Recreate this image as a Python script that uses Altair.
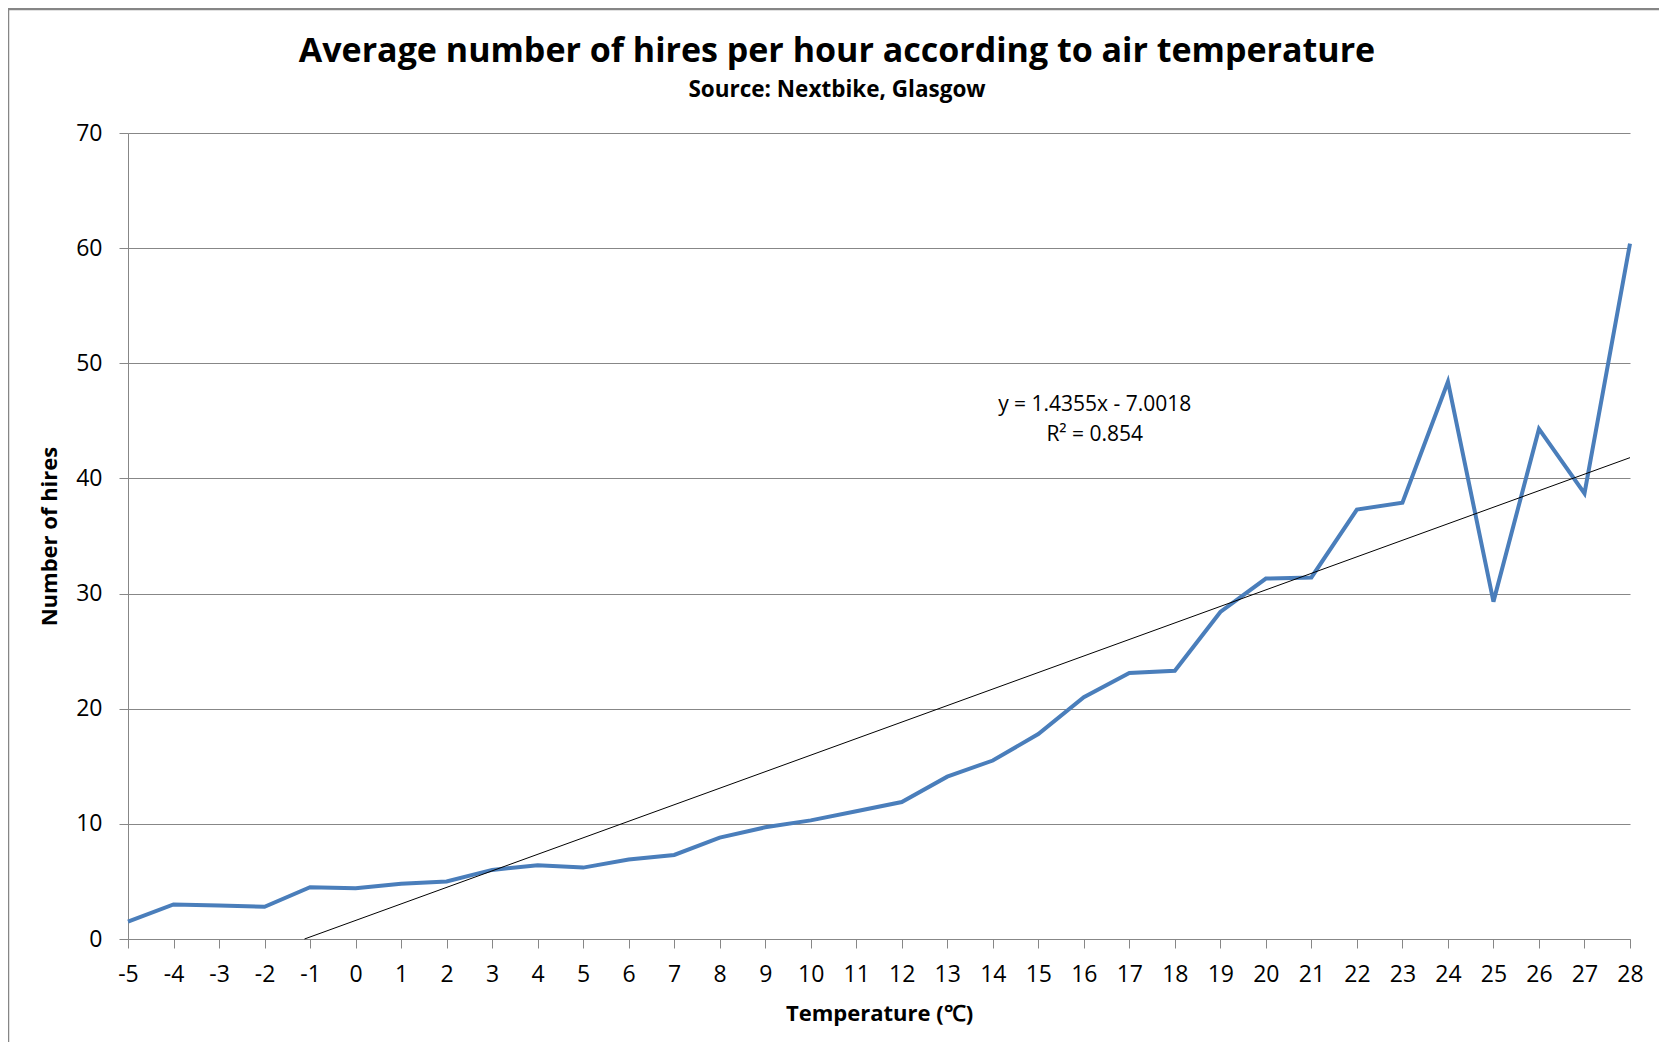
import altair as alt
import pandas as pd

temps = list(range(-5, 29))
hires = [1.5, 3.0, 2.9, 2.8, 4.5, 4.4, 4.8, 5.0, 6.0, 6.4, 6.2, 6.9, 7.3, 8.8, 9.7,
         10.3, 11.1, 11.9, 14.1, 15.5, 17.8, 21.0, 23.1, 23.3, 28.4, 31.3, 31.4,
         37.3, 37.9, 48.4, 29.3, 44.3, 38.7, 60.4]

slope = 1.4355
intercept = -7.0018
r2 = 0.854
x_ticks = list(range(-5, 29))
y_ticks = list(range(0, 71, 10))

title_text = "Average number of hires per hour according to air temperature"
subtitle_text = "Source: Nextbike, Glasgow"

eq_lines = ["y = 1.4355x - 7.0018", "R² = 0.854"]
eq_x = [16.24, 16.24]
eq_y = [46.4, 43.8]

df = pd.DataFrame({"temp": temps, "hires": hires})

# trend line from the stated equation (x = category index 1..34), clipped at y = 0
t_start = -intercept / slope - 6
t_end = temps[-1]
trend = pd.DataFrame({
    "temp": [t_start, t_end],
    "hires": [slope * (t_start + 6) + intercept, slope * (t_end + 6) + intercept],
})
ann = pd.DataFrame({"label": eq_lines, "temp": eq_x, "hires": eq_y})

FONT = "Open Sans"
GRID = "#878787"

xscale = alt.Scale(domain=[-5, 28], nice=False, zero=False)
yscale = alt.Scale(domain=[0, 70], nice=False)

xaxis = alt.Axis(values=x_ticks, title="Temperature (℃)", grid=False, tickSize=9,
                 labelPadding=15, titlePadding=17, labelExpr="'' + datum.value",
                 labelFlush=False, labelOverlap=False)
yaxis = alt.Axis(values=y_ticks, title="Number of hires", grid=True, tickSize=9,
                 labelPadding=17, titlePadding=14, labelFlush=False)

line = alt.Chart(df).mark_line(color="#4A7EBB", strokeWidth=4).encode(
    x=alt.X("temp:Q", scale=xscale, axis=xaxis),
    y=alt.Y("hires:Q", scale=yscale, axis=yaxis),
)

trend_line = alt.Chart(trend).mark_line(color="black", strokeWidth=1).encode(
    x=alt.X("temp:Q", scale=xscale),
    y=alt.Y("hires:Q", scale=yscale),
)

text = alt.Chart(ann).mark_text(font=FONT, fontSize=21, color="black",
                                align="center", baseline="middle").encode(
    x=alt.X("temp:Q", scale=xscale),
    y=alt.Y("hires:Q", scale=yscale),
    text="label:N",
)

one = pd.DataFrame({"k": [0]})
title_mark = alt.Chart(one).mark_text(
    text=title_text, font=FONT, fontSize=34, fontWeight="bold", color="black",
    align="center", baseline="alphabetic",
).encode(x=alt.value(709), y=alt.value(-71))
subtitle_mark = alt.Chart(one).mark_text(
    text=subtitle_text, font=FONT, fontSize=22.5, fontWeight="bold", color="black",
    align="center", baseline="alphabetic",
).encode(x=alt.value(709), y=alt.value(-36))

frame_left = alt.Chart(one).mark_rule(color="#868686", strokeWidth=2.5).encode(
    x=alt.value(-120), y=alt.value(-124), y2=alt.value(1000))
frame_top = alt.Chart(one).mark_rule(color="#868686", strokeWidth=2.5).encode(
    x=alt.value(-120), x2=alt.value(1560), y=alt.value(-124))

chart = alt.layer(line, trend_line, text, title_mark, subtitle_mark,
                  frame_left, frame_top).properties(
    width=1502,
    height=806,
    autosize=alt.AutoSizeParams(type="none"),
    padding={"left": 120, "top": 125, "right": 29, "bottom": 103},
).configure_view(stroke=None).configure_axis(
    labelFont=FONT, labelFontSize=23, labelColor="black",
    titleFont=FONT, titleFontSize=22, titleFontWeight="bold", titleColor="black",
    domainColor=GRID, tickColor=GRID, gridColor=GRID, gridWidth=1, domainWidth=1,
    tickWidth=1,
)

chart.save("out.html", embed_options={"renderer": "svg", "actions": False})
